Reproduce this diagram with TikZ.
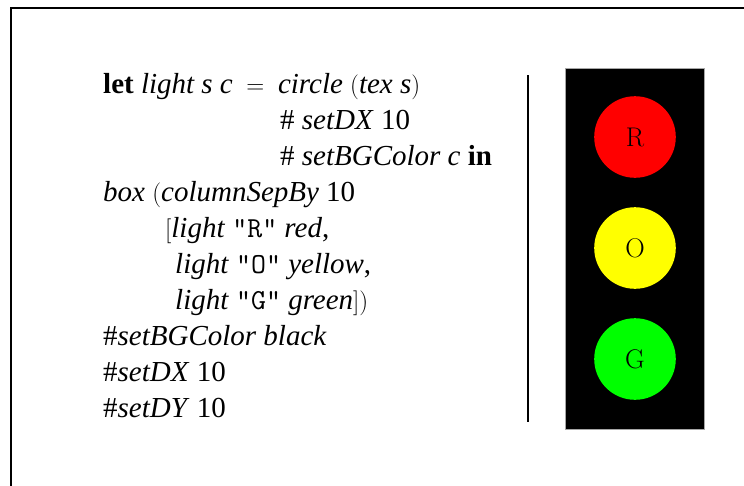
\documentclass[tikz,border=0pt]{standalone}
\usepackage[no-math]{fontspec}
\setmainfont{Liberation Serif}
\newcommand{\lp}{$($}
\newcommand{\rp}{$)$}
\newcommand{\lb}{$[$}
\newcommand{\rb}{$]$}
\newcommand{\eqsign}{\hspace{0.22em}$=$\hspace{0.22em}}
\begin{document}
\begin{tikzpicture}[x=1pt,y=-1pt,
  code/.style={anchor=base west,inner sep=0pt,font=\fontsize{29}{34}\selectfont},
  lamp/.style={circle,minimum size=81.6pt,inner sep=0pt,
    font=\fontsize{27}{32}\selectfont\fontspec{Latin Modern Roman}}]
\useasboundingbox (0,0) rectangle (744,485);
% frame edges
\draw[line width=2.4pt] (11,486) -- (11,8) -- (745,8);
% program text
\node[code] (l1) at (103,93) {\textbf{let} \textit{light s c} \eqsign{} \textit{circle} \lp\textit{tex s}\rp};
\node[code] (l2) at (280,129) {\# \textit{setDX} 10};
\node[code] (l3) at (280,165) {\# \textit{setBGColor c} \textbf{in}};
\node[code] (l4) at (103,201) {\textit{box} \lp\textit{columnSepBy} 10};
\node[code] (l5) at (165,237) {\lb\textit{light} \texttt{"R"} \textit{red},};
\node[code] (l6) at (175,273) {\textit{light} \texttt{"O"} \textit{yellow},};
\node[code] (l7) at (175,309) {\textit{light} \texttt{"G"} \textit{green}\rb\rp};
\node[code] (l8) at (103,345) {\#\textit{setBGColor black}};
\node[code] (l9) at (103,381) {\#\textit{setDX} 10};
\node[code] (l10) at (103,417) {\#\textit{setDY} 10};
% separator
\coordinate (s1) at (528,75);
\coordinate (s2) at (528,422);
\draw[line width=1.6pt] (s1) -- (s2);
% traffic light housing and lamps
\fill[black] (565,68.5) rectangle (704.5,429);
\draw[gray!70,line width=0.4pt] (565,68.5) rectangle (704.5,429);
\node[lamp,fill={rgb,255:red,255;green,0;blue,0}] (r) at (635,137) {R};
\node[lamp,fill={rgb,255:red,255;green,255;blue,0}] (o) at (635,248) {O};
\node[lamp,fill={rgb,255:red,0;green,255;blue,0}] (g) at (635,359) {G};
\end{tikzpicture}
\end{document}
